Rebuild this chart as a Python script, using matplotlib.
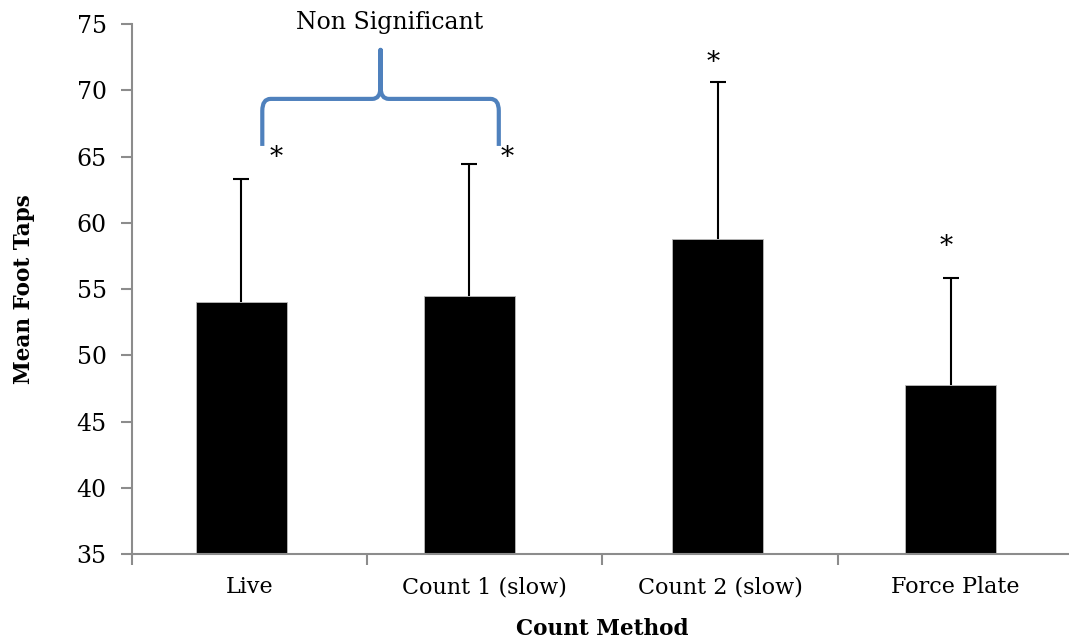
import numpy as np
import matplotlib
matplotlib.use("Agg")
import matplotlib.pyplot as plt
from matplotlib.path import Path
from matplotlib.patches import PathPatch

# chart data
methods = ["Live", "Count 1 (slow)", "Count 2 (slow)", "Force Plate"]
mean_taps = [54.0, 54.5, 58.8, 47.75]
sd_upper = [9.33, 9.95, 11.85, 8.05]
star_y = [64.9, 64.9, 72.1, 58.2]
star_dx = [0.15, 0.16, -0.02, -0.02]
brace_pair = (0, 1)
brace_label = "Non Significant"

plt.rcParams['font.family'] = ['DejaVu Serif']
grey = "#8c8c8c"
blue = "#4f81bd"

fig = plt.figure(figsize=(10.69, 6.41), dpi=100)
ax = fig.add_axes([0.1232, 0.1357, 0.8805, 0.8268])

x = np.arange(len(methods))
bar_x = x + np.array([-0.035, -0.065, -0.01, -0.02])
ax.bar(bar_x, [m - 35 for m in mean_taps], bottom=35, width=0.386,
       color="black", edgecolor="#bbbbbb", linewidth=0.6, zorder=2)
tops = np.array(mean_taps) + np.array(sd_upper)
ax.vlines(bar_x, mean_taps, tops, color="black", linewidth=1.5, zorder=3)
ax.plot(bar_x, tops, ls="none", marker="_", ms=12, mew=1.5, color="black",
        zorder=3)

for i, (sy, dx) in enumerate(zip(star_y, star_dx)):
    ax.text(bar_x[i] + dx, sy, "*", ha="center", va="center", fontsize=19)

# brace over the first two bars
x0 = bar_x[brace_pair[0]] + 0.09
x1 = bar_x[brace_pair[1]] + 0.125
xc = (x0 + x1) / 2
yb, yh, yt = 65.8, 69.35, 73.05
rx, ry = 0.035, 0.9
verts = [(x0, yb), (x0, yh - ry), (x0, yh), (x0 + rx, yh),
         (xc - rx, yh), (xc, yh), (xc, yh + ry), (xc, yt),
         (xc, yh + ry), (xc, yh), (xc + rx, yh),
         (x1 - rx, yh), (x1, yh), (x1, yh - ry), (x1, yb)]
codes = [Path.MOVETO, Path.LINETO, Path.CURVE3, Path.CURVE3,
         Path.LINETO, Path.CURVE3, Path.CURVE3, Path.LINETO,
         Path.LINETO, Path.CURVE3, Path.CURVE3,
         Path.LINETO, Path.CURVE3, Path.CURVE3, Path.LINETO]
ax.add_patch(PathPatch(Path(verts, codes), facecolor="none", edgecolor=blue,
                       linewidth=3, capstyle="butt", joinstyle="round",
                       clip_on=False, zorder=4))
ax.text(xc + 0.04, 75.1, brace_label, ha="center", va="center", fontsize=17,
        clip_on=False)

ax.set_xlim(-0.5, 3.5)
ax.set_ylim(35, 75)
ax.set_yticks(np.arange(35, 76, 5))
ax.set_xticks(x)
ax.set_xticklabels(methods)
ax.set_xticks(np.arange(-0.5, 3.6, 1), minor=True)
ax.tick_params(axis="x", which="major", length=0, pad=16, labelsize=16)
ax.tick_params(axis="x", which="minor", length=8, width=1.5, color=grey)
ax.tick_params(axis="y", length=8, width=1.5, color=grey, pad=10, labelsize=17)

for s in ["top", "right"]:
    ax.spines[s].set_visible(False)
for s in ["left", "bottom"]:
    ax.spines[s].set_color(grey)
    ax.spines[s].set_linewidth(1.5)

ax.set_ylabel("Mean Foot Taps", fontsize=15.5, fontweight="bold", labelpad=30)
ax.set_xlabel("Count Method", fontsize=15.5, fontweight="bold", labelpad=14)

fig.savefig("out.png", dpi=100)
